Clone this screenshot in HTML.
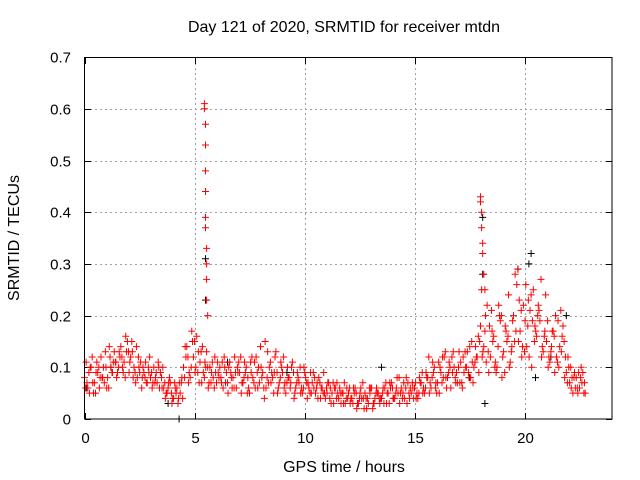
<!DOCTYPE html>
<html><head><meta charset="utf-8"><style>
body{margin:0;background:#fff}
svg{display:block;font-family:"Liberation Sans",Arial,sans-serif}
</style></head><body>
<svg id="chart" width="640" height="480" viewBox="0 0 640 480" xmlns="http://www.w3.org/2000/svg">
<text x="344" y="32" font-size="16" text-anchor="middle">Day 121 of 2020, SRMTID for receiver mtdn</text>
<text x="344" y="472" font-size="16" text-anchor="middle">GPS time / hours</text>
<text x="19" y="238" font-size="16" text-anchor="middle" transform="rotate(-90 19 238)">SRMTID / TECUs</text>
<g id="grid"></g>
<g id="ticks"></g>
<g id="marks"></g>
<rect x="84.5" y="57.5" width="527.5" height="361.5" fill="none" stroke="#000" stroke-width="1"/>
</svg>
<script>
const xTicks=[0,5,10,15,20];
const yTicks=[0,0.1,0.2,0.3,0.4,0.5,0.6,0.7];
const step=0.15;
const seriesA=[.08,.06,.10,.07,.09,.12,.07,.08,.10,.13,.09,.14,.11,.15,.12,.10,.08,.11,.09,.07,.08,.10,.07,.09,.06,.05,.07,.04,.06,.05,.10,.14,.08,.12,.16,.11,.09,.13,.10,.08,.07,.10,.06,.09,.11,.08,.06,.09,.07,.10,.05,.08,.12,.07,.09,.06,.10,.08,.13,.07,.09,.05,.08,.11,.06,.07,.05,.08,.06,.07,.05,.08,.06,.04,.07,.05,.06,.04,.05,.03,.05,.04,.06,.03,.04,.05,.03,.06,.04,.05,.04,.06,.05,.07,.04,.05,.06,.04,.07,.05,.06,.04,.07,.05,.08,.06,.10,.07,.09,.12,.08,.06,.10,.07,.11,.09,.13,.08,.10,.12,.18,.14,.22,.12,.16,.10,.19,.13,.15,.11,.20,.26,.17,.22,.14,.21,.25,.16,.19,.13,.15,.11,.17,.12,.14,.18,.09,.07,.05,.08,.06,.09];
const seriesB=[.11,.05,.07,.09,.06,.08,.10,.14,.09,.11,.13,.10,.16,.09,.13,.07,.10,.08,.11,.09,.06,.08,.10,.06,.04,.07,.03,.06,.04,.08,.14,.07,.17,.09,.13,.07,.11,.06,.09,.12,.09,.07,.10,.05,.08,.12,.09,.05,.11,.08,.09,.11,.06,.10,.04,.13,.07,.09,.05,.11,.06,.10,.07,.04,.09,.05,.10,.04,.09,.06,.07,.04,.09,.05,.06,.03,.07,.05,.03,.06,.03,.06,.02,.05,.04,.02,.05,.03,.06,.03,.06,.03,.07,.04,.06,.03,.05,.08,.04,.06,.04,.08,.05,.09,.05,.11,.07,.05,.12,.08,.11,.09,.07,.13,.06,.10,.08,.11,.14,.09,.12,.20,.09,.17,.11,.22,.08,.18,.24,.14,.28,.15,.12,.19,.23,.10,.18,.22,.12,.17,.10,.14,.09,.19,.13,.08,.12,.06,.09,.05,.10,.07];
const seriesC=[.06,.09,.12,.05,.10,.08,.13,.06,.09,.11,.10,.12,.08,.13,.15,.09,.12,.06,.08,.10,.09,.07,.11,.08,.07,.06,.05,.07,.03,.07,.08,.12,.10,.15,.09,.13,.08,.10,.07,.06,.11,.08,.12,.07,.09,.06,.10,.12,.08,.05,.11,.07,.09,.14,.06,.08,.11,.05,.09,.08,.12,.07,.06,.09,.07,.10,.06,.07,.05,.09,.06,.07,.05,.06,.04,.07,.04,.06,.05,.04,.06,.03,.05,.04,.07,.04,.06,.02,.05,.04,.05,.07,.03,.06,.05,.08,.04,.06,.05,.07,.07,.05,.09,.06,.12,.08,.06,.11,.07,.13,.09,.12,.08,.10,.07,.13,.09,.15,.11,.16,.25,.17,.13,.21,.10,.14,.20,.09,.16,.13,.15,.29,.21,.13,.18,.24,.15,.20,.27,.16,.19,.13,.16,.11,.21,.15,.07,.10,.08,.06,.08,.05];
const seriesD=[.07,.10,.05,.11,.08,.10,.06,.12,.11,.08,.12,.09,.13,.11,.08,.14,.09,.10,.07,.12,.07,.09,.06,.10,.05,.08,.04,.05,.07,.04,.12,.09,.15,.10,.07,.14,.10,.07,.11,.09,.08,.11,.07,.10,.06,.09,.11,.07,.09,.06,.12,.06,.10,.08,.15,.07,.09,.12,.06,.10,.07,.08,.10,.05,.08,.06,.09,.07,.05,.08,.04,.06,.05,.07,.03,.06,.05,.03,.07,.04,.04,.05,.03,.06,.02,.04,.06,.03,.05,.04,.03,.05,.06,.04,.08,.05,.07,.03,.06,.04,.05,.07,.06,.08,.07,.09,.05,.10,.08,.06,.10,.13,.09,.07,.12,.10,.14,.07,.12,.15,.13,.11,.18,.15,.09,.20,.12,.17,.10,.19,.17,.23,.14,.26,.12,.19,.17,.21,.14,.24,.12,.17,.20,.10,.16,.12,.10,.08,.06,.09,.07,.05];
const spikeTimes=[5.45,5.45,5.5,5.5,5.5,5.5,5.5,5.5,5.55,5.55,5.55,5.55,5.6,18.0,18.0,18.05,18.05,18.1,18.1,18.15,18.2];
const spikeValues=[.61,.60,.57,.53,.48,.44,.39,.37,.33,.30,.27,.23,.20,.43,.42,.40,.37,.34,.32,.28,.25];
const blackTimes=[0.1,1.2,3.8,4.3,5.5,5.5,6.5,9.2,13.5,17.5,18.1,18.1,18.2,19.7,20.3,20.2,20.5,21.9,21.2];
const blackValues=[.06,.10,.03,.00,.31,.23,.11,.09,.10,.08,.39,.28,.03,.29,.32,.30,.08,.20,.12];

const X0=84.5,PX=22.0,Y0=419,PY=517;
const xs=t=>X0+t*PX, ys=v=>Y0-v*PY;
const NS="http://www.w3.org/2000/svg";
const grid=document.getElementById('grid'),ticks=document.getElementById('ticks'),marks=document.getElementById('marks');
function line(g,x1,y1,x2,y2,st,dash){const l=document.createElementNS(NS,'line');l.setAttribute('x1',x1);l.setAttribute('y1',y1);l.setAttribute('x2',x2);l.setAttribute('y2',y2);l.setAttribute('stroke',st);if(dash)l.setAttribute('stroke-dasharray',dash);g.appendChild(l);return l;}
function text(x,y,s,anchor){const t=document.createElementNS(NS,'text');t.setAttribute('x',x);t.setAttribute('y',y);t.setAttribute('font-size','15');t.setAttribute('text-anchor',anchor);t.textContent=s;document.getElementById('chart').appendChild(t);return t;}
xTicks.forEach(v=>{const x=Math.round(xs(v))+0.5;
 if(v>0){const g=line(grid,x,58,x,419,'#a0a0a0','2,3');

}
 line(ticks,x,419,x,413,'#000');line(ticks,x,58,x,64,'#000');
 const t=text(x,443,String(v),'middle');

});
yTicks.forEach(v=>{const y=Math.round(ys(v))+0.5;
 if(v>0&&v<0.7){const g=line(grid,85,y,612,y,'#a0a0a0','2,3');

}
 line(ticks,85,y,91,y,'#000');line(ticks,612,y,606,y,'#000');
 const t=text(71,y+5,v===0?'0':v.toFixed(1),'end');

});
function plus(t,v,color,name){const x=xs(t),y=ys(v);const p=document.createElementNS(NS,'path');
 p.setAttribute('d',`M${x-3.5} ${y}H${x+3.5}M${x} ${y-3.5}V${y+3.5}`);p.setAttribute('stroke',color);p.setAttribute('fill','none');
 
 
 marks.appendChild(p);}
blackValues.forEach((v,i)=>plus(blackTimes[i],v,'#000','black-point'));
seriesA.forEach((v,i)=>plus(i*step,v,'#ff0000','red-point'));
seriesB.forEach((v,i)=>plus(i*step+0.075,v,'#ff0000','red-point'));
seriesC.forEach((v,i)=>plus(i*step+0.05,v,'#ff0000','red-point'));
seriesD.forEach((v,i)=>plus(i*step+0.11,v,'#ff0000','red-point'));
spikeValues.forEach((v,i)=>plus(spikeTimes[i],v,'#ff0000','spike-point'));
</script>
</body></html>
